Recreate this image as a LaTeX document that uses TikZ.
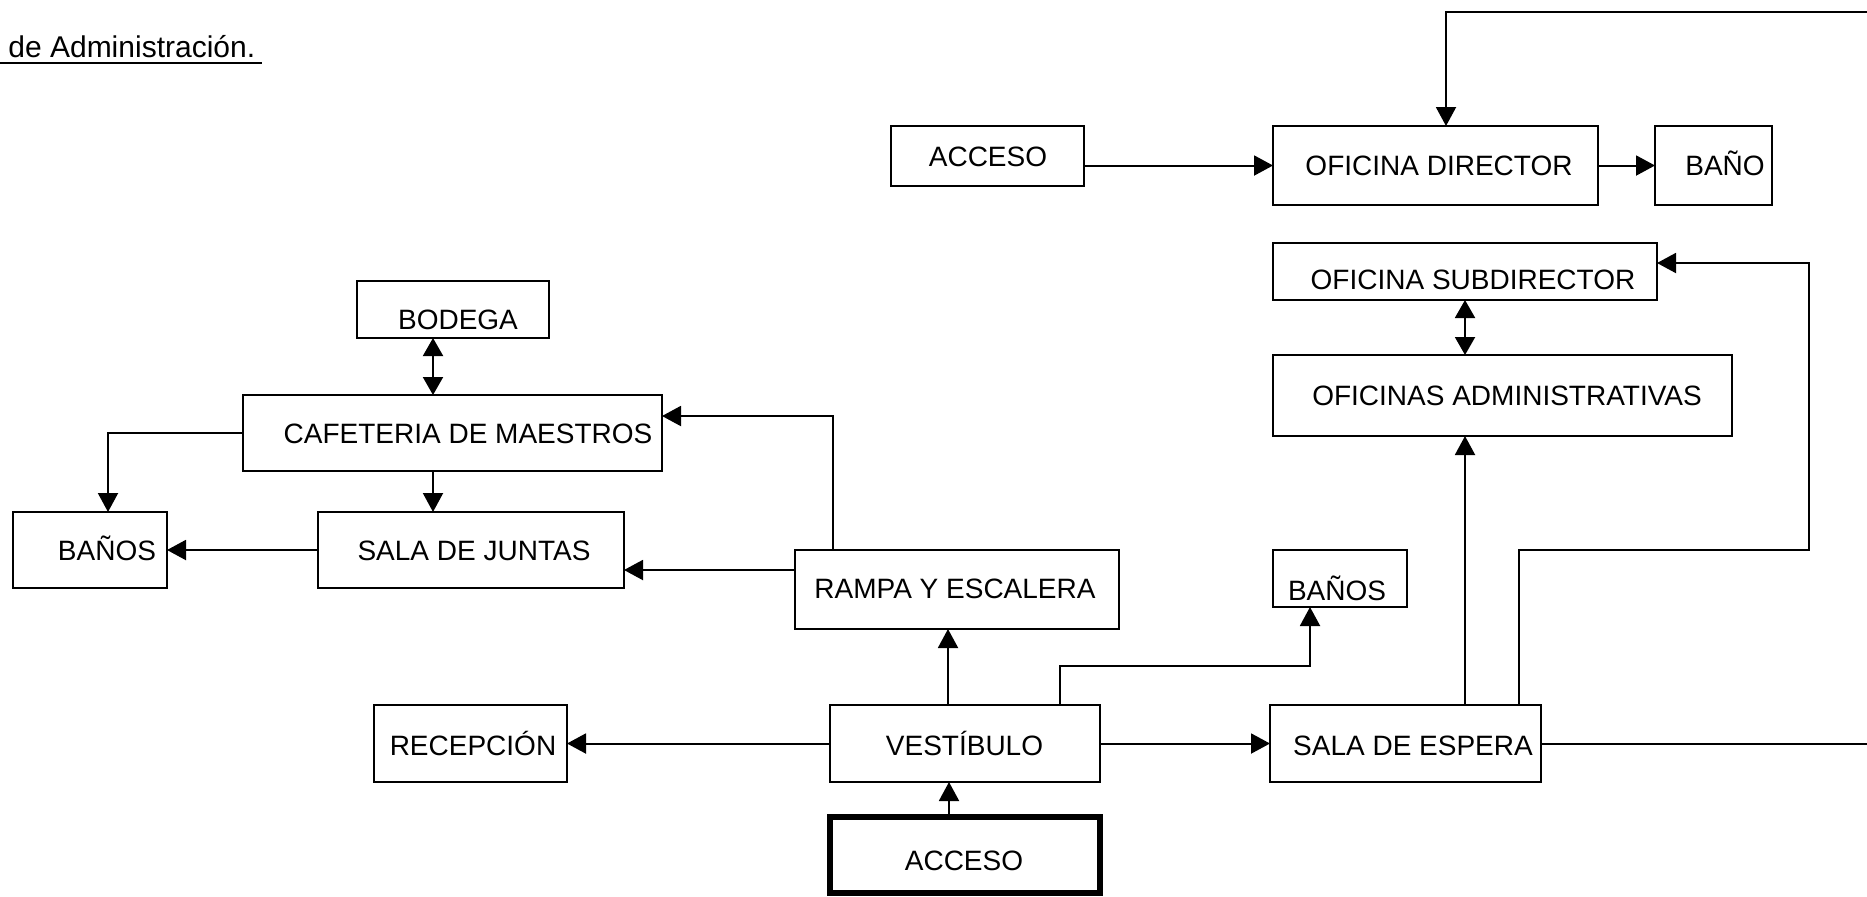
\documentclass[tikz,border=0pt]{standalone}
\usepackage{fontspec}
\setmainfont{Liberation Sans}
\usetikzlibrary{arrows.meta,calc}
\tikzset{
  box/.style={draw, line width=1pt, inner sep=0pt, outer sep=0pt},
  thickbox/.style={draw, line width=3pt, inner sep=0pt, outer sep=0pt},
  lbl/.style={anchor=base, inner sep=0pt, font=\fontsize{14}{16}\selectfont},
  conn/.style={line width=1pt},
  arr/.style={line width=1pt, -{Triangle[length=9.5pt,width=10pt]}},
  dbl/.style={line width=1pt, {Triangle[length=9pt,width=10pt]}-{Triangle[length=9pt,width=10pt]}}
}
\newcommand\mybox[6][box]{\node[#1, minimum width={(#5-#3)*0.5pt}, minimum height={(#6-#4)*0.5pt}] (#2) at ({(#3+#5)/2},{(#4+#6)/2}) {};}
\newcommand\mytext[4]{\node[lbl] (#1) at (#2,{#3+10}) {#4};}
\begin{document}
\begin{tikzpicture}[x=0.5pt,y=-0.5pt]
\useasboundingbox (0,0) rectangle (1867,896);
% title
\node[anchor=base west, inner sep=0pt, font=\fontsize{15}{17}\selectfont] (title) at (8,57) {de Administración.};
\draw[conn] (0,63) -- (262,63);
% boxes
\mybox{acc1}{891}{126}{1084}{186}
\mybox{od}{1273}{126}{1598}{205}
\mybox{bano}{1655}{126}{1772}{205}
\mybox{os}{1273}{243}{1657}{300}
\mybox{oa}{1273}{355}{1732}{436}
\mybox{sde}{1270}{705}{1541}{782}
\mybox{v}{830}{705}{1100}{782}
\mybox{rec}{374}{705}{567}{782}
\mybox[thickbox]{acc2}{830}{817}{1100}{893}
\mybox{rampa}{795}{550}{1119}{629}
\mybox{b2}{1273}{550}{1407}{607}
\mybox{caf}{243}{395}{662}{471}
\mybox{bod}{357}{281}{549}{338}
\mybox{sdj}{318}{512}{624}{588}
\mybox{b1}{13}{512}{167}{588}
% texts
\mytext{acc1-t}{988}{156}{ACCESO}
\mytext{od-t}{1439}{165.5}{OFICINA DIRECTOR}
\mytext{bano-t}{1725}{165.5}{BAÑO}
\mytext{os-t}{1473}{279}{OFICINA SUBDIRECTOR}
\mytext{oa-t}{1507}{395.5}{OFICINAS ADMINISTRATIVAS}
\mytext{sde-t}{1413}{745}{SALA DE ESPERA}
\mytext{v-t}{964.5}{745}{VESTÍBULO}
\mytext{rec-t}{473}{745}{RECEPCIÓN}
\mytext{acc2-t}{964}{860}{ACCESO}
\mytext{rampa-t}{955}{588}{RAMPA Y ESCALERA}
\mytext{b2-t}{1337}{590}{BAÑOS}
\mytext{caf-t}{468}{433}{CAFETERIA DE MAESTROS}
\mytext{bod-t}{458}{319}{BODEGA}
\mytext{sdj-t}{474}{550}{SALA DE JUNTAS}
\mytext{b1-t}{107}{550}{BAÑOS}
% free ends
\coordinate (eR1) at (1867,12);
\coordinate (eR2) at (1867,743.5);
\coordinate (c1) at (1809,550);
\coordinate (c2) at (1310,666);
% connectors
\draw[arr] (eR1) -| ($(od.north)+(10.5,0)$);
\draw[arr] (acc1.east |- od.west) -- (od.west);
\draw[arr] (od.east) -- (bano.west);
\draw[dbl] (os.south) -- (os.south |- oa.north);
\draw[arr] (sde.north -| os.south) -- (oa.south -| os.south);
\draw[arr] ($(sde.north)+(113.5,0)$) |- (c1) |- ($(os.east)+(0,-8.5)$);
\draw[conn] (sde.east) -- (eR2);
\draw[arr] (v.east) -- (sde.west);
\draw[arr] (v.west) -- (rec.east);
\draw[arr] ($(acc2.north)+(-16,0)$) -- ($(v.south)+(-16,0)$);
\draw[arr] ($(v.north)+(-17,0)$) -- ($(rampa.south)+(-9,0)$);
\draw[arr] ($(v.north)+(95,0)$) |- (c2) -- (c2 |- b2.south);
\draw[arr] ($(rampa.north)+(-124,0)$) |- ($(caf.east)+(0,-17)$);
\draw[arr] ($(rampa.west)+(0,-19.5)$) -- ($(sdj.east)+(0,20)$);
\draw[dbl] ($(bod.south)+(-20,0)$) -- ($(caf.north)+(-19.5,0)$);
\draw[arr] ($(caf.south)+(-19.5,0)$) -- ($(sdj.north)+(-38,0)$);
\draw[arr] (sdj.west) -- (b1.east);
\draw[arr] (caf.west) -| ($(b1.north)+(18,0)$);
\end{tikzpicture}
\end{document}
